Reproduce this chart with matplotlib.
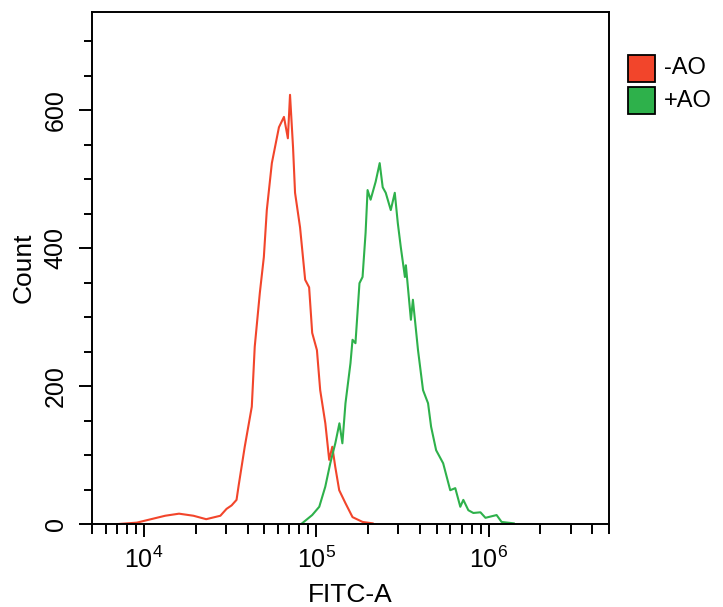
import numpy as np
import matplotlib

matplotlib.use("Agg")
import matplotlib.pyplot as plt
from matplotlib.ticker import LogLocator, MultipleLocator, NullFormatter
from matplotlib.patches import Rectangle

plt.rcParams["font.family"] = ["Liberation Sans", "DejaVu Sans"]
plt.rcParams["mathtext.fontset"] = "custom"
plt.rcParams["mathtext.rm"] = "Liberation Sans"
plt.rcParams["mathtext.it"] = "Liberation Sans"

# -AO histogram (FITC-A intensity, count)
neg_x = [7100, 9100, 11000, 13300, 16000, 19400, 23000, 27800, 30200, 32300,
         34500, 35500, 38500, 42300, 44000, 47100, 49700, 51700, 55300, 60800,
         65000, 68500, 70500, 73400, 75400, 80600, 86300, 91000, 94800, 101000,
         105500, 113000, 119000, 124000, 129000, 136000, 148000, 162500, 186000,
         212500]
neg_count = [0, 2, 7, 12, 15, 12, 7, 12, 22, 27,
             35, 56, 112, 170, 257, 335, 387, 455, 523, 575,
             590, 559, 622, 546, 480, 430, 354, 343, 277, 252,
             194, 146, 93, 112, 83, 49, 30, 10, 3,
             1]

# +AO histogram
pos_x = [82800, 94800, 104200, 112900, 120700, 129100, 136400, 141900, 147900,
         158100, 162500, 169000, 178300, 185800, 193500, 198700, 206900, 221300,
         233600, 243200, 253300, 270900, 285800, 297600, 309800, 327200, 331500,
         354500, 364100, 389800, 416900, 445800, 464300, 496500, 545500, 599500,
         641300, 685900, 714100, 763700, 816600, 897500, 959700, 1114000,
         1191000, 1400000]
pos_count = [1, 13, 25, 54, 88, 117, 146, 117, 175,
             233, 267, 262, 349, 358, 422, 484, 470, 496,
             523, 488, 480, 455, 480, 436, 401, 358, 375,
             296, 325, 252, 194, 175, 141, 107, 88, 49,
             52, 25, 35, 20, 16, 17, 9, 13,
             3, 1]

labels = ["-AO", "+AO"]
colors = ["#F2452B", "#2EB14B"]


def main():
    fig = plt.figure(figsize=(7.23, 6.07), dpi=100)
    ax = fig.add_axes([0.1272, 0.1367, 0.7151, 0.8435])

    ax.plot(neg_x, neg_count, color=colors[0], lw=1.5)
    ax.plot(pos_x, pos_count, color=colors[1], lw=1.5)

    ax.set_xscale("log")
    ax.set_xlim(5000, 5e6)
    ax.set_ylim(0, 742)

    ax.xaxis.set_major_locator(LogLocator(base=10, numticks=10))
    ax.xaxis.set_minor_locator(LogLocator(base=10, subs=np.arange(2, 10), numticks=20))
    ax.xaxis.set_minor_formatter(NullFormatter())
    ax.yaxis.set_major_locator(MultipleLocator(200))
    ax.yaxis.set_minor_locator(MultipleLocator(50))

    ax.tick_params(which="both", direction="out", width=1.4, labelsize=18,
                   colors="black")
    ax.tick_params(axis="x", which="major", length=9.5, pad=7)
    ax.tick_params(axis="x", which="minor", length=7)
    ax.tick_params(axis="y", which="major", length=9.5, pad=8, labelrotation=90)
    ax.tick_params(axis="y", which="minor", length=6)
    for lab in ax.get_yticklabels():
        lab.set_verticalalignment("center")
    for sp in ax.spines.values():
        sp.set_linewidth(1.4)

    ax.set_xlabel("FITC-A", fontsize=19, labelpad=7)
    ax.set_ylabel("Count", fontsize=19, labelpad=6)

    # legend drawn as boxes to the right of the plot
    box_w, box_h = 27 / 723, 27 / 607
    for i, (lab, c) in enumerate(zip(labels, colors)):
        y0 = 1 - (82 + 32 * i) / 607
        fig.add_artist(Rectangle((628 / 723, y0), box_w, box_h, facecolor=c,
                                 edgecolor="black", lw=1.3,
                                 transform=fig.transFigure))
        fig.text(664 / 723, y0 + box_h / 2, lab, fontsize=17, va="center",
                 ha="left")

    fig.savefig("out.png", dpi=100)


if __name__ == "__main__":
    main()
